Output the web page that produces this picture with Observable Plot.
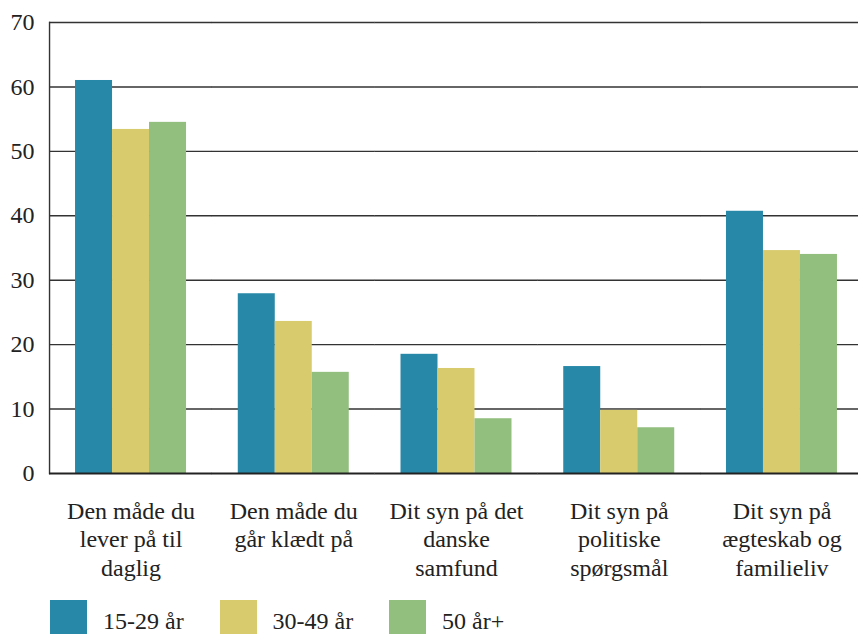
<!DOCTYPE html>
<html><head><meta charset="utf-8">
<script src="https://cdn.jsdelivr.net/npm/d3@7"></script>
<script src="https://cdn.jsdelivr.net/npm/@observablehq/plot@0.6"></script>
<style>
html,body{margin:0;padding:0;background:#fff;overflow:hidden;}
#chart{position:relative;width:858px;height:634px;}
#chart svg{display:block;}
.legend{position:absolute;left:50px;top:600px;display:flex;font-family:"Liberation Serif",serif;font-size:24px;color:#222;}
.item{width:169.5px;display:flex;align-items:flex-start;}
.sw{width:37px;height:36px;margin-right:16px;flex:none;}
.lab{line-height:36px;padding-top:3px;white-space:nowrap;}
</style></head>
<body><div id="chart"></div>
<script>
const categories = [
  "Den måde du\nlever på til\ndaglig",
  "Den måde du\ngår klædt på",
  "Dit syn på det\ndanske\nsamfund",
  "Dit syn på\npolitiske\nspørgsmål",
  "Dit syn på\nægteskab og\nfamilieliv"
];
const series = ["15-29 år", "30-49 år", "50 år+"];
const v15_29 = [61.0, 27.9, 18.5, 16.6, 40.7];
const v30_49 = [53.4, 23.6, 16.3, 9.8, 34.6];
const v50plus = [54.5, 15.7, 8.5, 7.1, 34.0];
const colors = ["#2788a8", "#d8cb6e", "#92be7e"];
const yTicks = [0, 10, 20, 30, 40, 50, 60, 70];

const valuesBySeries = [v15_29, v30_49, v50plus];
const rows = categories.flatMap((c, i) =>
  series.map((s, j) => ({category: c, series: s, value: valuesBySeries[j][i]}))
);

const font = "'Liberation Serif', 'Times New Roman', serif";

const chart = Plot.plot({
  width: 858,
  height: 595,
  marginLeft: 49,
  marginRight: -5,
  marginTop: 22,
  marginBottom: 122,
  style: {fontFamily: font, fontSize: "24px", color: "#222", background: "#fff"},
  fx: {domain: categories, paddingInner: 0.318, paddingOuter: 0.16, round: false, label: null},
  x: {domain: series, padding: 0, round: false, axis: null},
  y: {domain: [0, 70], axis: null},
  color: {domain: series, range: colors},
  marks: [
    Plot.ruleY(yTicks.filter(d => d > 0), {y: d => d, insetLeft: -26, insetRight: -26, stroke: "#333", strokeWidth: 1.4}),
    Plot.frame({anchor: "left", facetAnchor: "left", insetLeft: -26, stroke: "#333", strokeWidth: 1.4}),
    Plot.barY(rows, {fx: "category", x: "series", y: "value", fill: "series"}),
    Plot.ruleY([0], {insetLeft: -26, insetRight: -26, stroke: "#222", strokeWidth: 2}),
    Plot.axisY(yTicks, {anchor: "left", tickSize: 0, tickPadding: 41, fontSize: 24, fill: "#222", label: null}),
    Plot.axisFx({anchor: "bottom", tickSize: 0, tickPadding: 25, lineHeight: 1.19, fontSize: 24, fill: "#222", label: null})
  ]
});
document.getElementById("chart").appendChild(chart);

const legend = document.createElement("div");
legend.className = "legend";
series.forEach((s, i) => {
  const item = document.createElement("div");
  item.className = "item";
  const sw = document.createElement("span");
  sw.className = "sw";
  sw.style.background = colors[i];
  const lab = document.createElement("span");
  lab.className = "lab";
  lab.textContent = s;
  item.appendChild(sw);
  item.appendChild(lab);
  legend.appendChild(item);
});
document.getElementById("chart").appendChild(legend);
</script>
</body></html>
